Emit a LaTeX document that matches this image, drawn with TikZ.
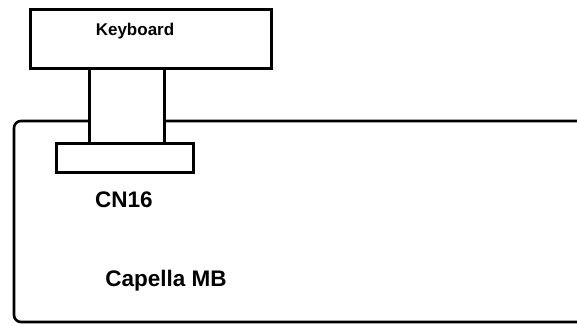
\documentclass[tikz,border=0pt]{standalone}
\usepackage{fontspec}
\setmainfont{Liberation Sans}
\begin{document}
\begin{tikzpicture}[x=1pt,y=-1pt,
  part/.style={draw=black,line width=2.6pt,fill=white,rectangle,inner sep=0pt,anchor=north west},
  lbl/.style={font=\bfseries,text=black,inner sep=0pt,anchor=base}]
\clip (0,0) rectangle (577,325);
\fill[white] (0,0) rectangle (577,325);
% motherboard (open to the right)
\draw[line width=2.6pt,rounded corners=7pt] (620,121) -- (14,121) -- (14,322) -- (620,322);
\coordinate (board) at (14,121);
% stem / cable
\node[part,minimum width=75pt,minimum height=75pt] (stem) at (88,67) {};
% keyboard
\node[part,minimum width=241pt,minimum height=59pt] (kbd) at (29,8) {};
% connector CN16
\node[part,minimum width=137pt,minimum height=29pt] (cn) at (55,142) {};
\node[lbl,font=\fontsize{17}{20}\selectfont\bfseries] (kbdtxt) at (135,35.5) {Keyboard};
\node[lbl,font=\fontsize{22.5}{26}\selectfont\bfseries] (cntxt) at (124,207) {CN16};
\node[lbl,font=\fontsize{22.5}{26}\selectfont\bfseries] (mbtxt) at (166,286.5) {Capella MB};
\end{tikzpicture}
\end{document}
